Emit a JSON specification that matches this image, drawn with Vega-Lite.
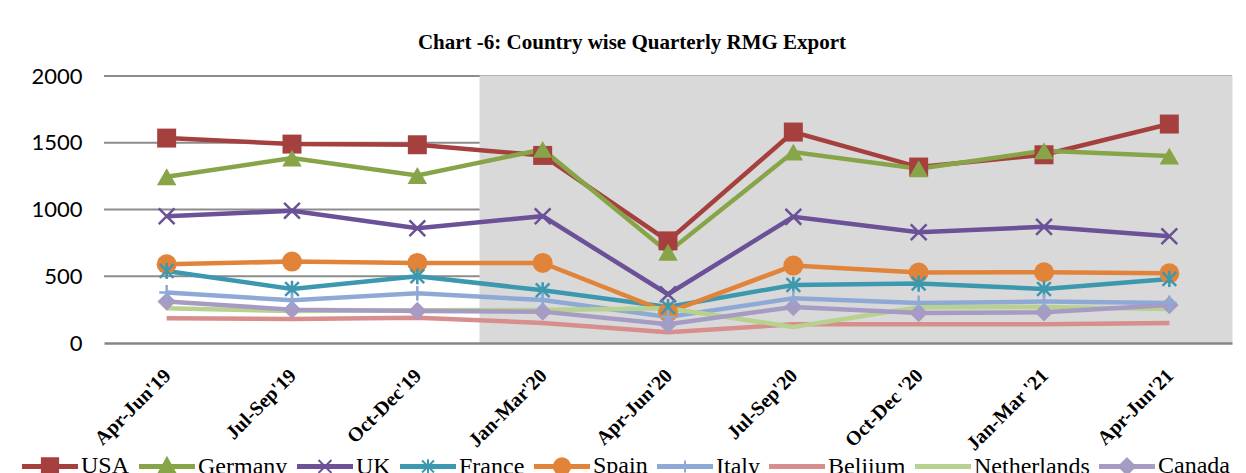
{
  "$schema": "https://vega.github.io/schema/vega-lite/v6.json",
  "width": 1128,
  "height": 267,
  "autosize": "none",
  "padding": {"left": 104, "top": 76, "right": 14, "bottom": 130},
  "background": "white",
  "title": {
    "text": "Chart -6: Country wise Quarterly RMG Export",
    "font": "Liberation Serif",
    "fontSize": 21,
    "fontWeight": "bold",
    "color": "black",
    "anchor": "middle",
    "dx": -36,
    "offset": 12
  },
  "config": {
    "view": {"stroke": null},
    "axis": {"labelColor": "black"}
  },
  "datasets": {
    "exports": [
      {"Quarter": "Apr-Jun'19", "Country": "USA", "Value": 1535},
      {"Quarter": "Jul-Sep'19", "Country": "USA", "Value": 1490},
      {"Quarter": "Oct-Dec'19", "Country": "USA", "Value": 1485},
      {"Quarter": "Jan-Mar'20", "Country": "USA", "Value": 1405},
      {"Quarter": "Apr-Jun'20", "Country": "USA", "Value": 765},
      {"Quarter": "Jul-Sep'20", "Country": "USA", "Value": 1580},
      {"Quarter": "Oct-Dec '20", "Country": "USA", "Value": 1318},
      {"Quarter": "Jan-Mar '21", "Country": "USA", "Value": 1410},
      {"Quarter": "Apr-Jun'21", "Country": "USA", "Value": 1640},
      {"Quarter": "Apr-Jun'19", "Country": "Germany", "Value": 1245},
      {"Quarter": "Jul-Sep'19", "Country": "Germany", "Value": 1385},
      {"Quarter": "Oct-Dec'19", "Country": "Germany", "Value": 1255},
      {"Quarter": "Jan-Mar'20", "Country": "Germany", "Value": 1450},
      {"Quarter": "Apr-Jun'20", "Country": "Germany", "Value": 680},
      {"Quarter": "Jul-Sep'20", "Country": "Germany", "Value": 1430},
      {"Quarter": "Oct-Dec '20", "Country": "Germany", "Value": 1305},
      {"Quarter": "Jan-Mar '21", "Country": "Germany", "Value": 1440},
      {"Quarter": "Apr-Jun'21", "Country": "Germany", "Value": 1400},
      {"Quarter": "Apr-Jun'19", "Country": "UK", "Value": 950},
      {"Quarter": "Jul-Sep'19", "Country": "UK", "Value": 990},
      {"Quarter": "Oct-Dec'19", "Country": "UK", "Value": 860},
      {"Quarter": "Jan-Mar'20", "Country": "UK", "Value": 950},
      {"Quarter": "Apr-Jun'20", "Country": "UK", "Value": 365},
      {"Quarter": "Jul-Sep'20", "Country": "UK", "Value": 945},
      {"Quarter": "Oct-Dec '20", "Country": "UK", "Value": 830},
      {"Quarter": "Jan-Mar '21", "Country": "UK", "Value": 870},
      {"Quarter": "Apr-Jun'21", "Country": "UK", "Value": 800},
      {"Quarter": "Apr-Jun'19", "Country": "France", "Value": 540},
      {"Quarter": "Jul-Sep'19", "Country": "France", "Value": 405},
      {"Quarter": "Oct-Dec'19", "Country": "France", "Value": 500},
      {"Quarter": "Jan-Mar'20", "Country": "France", "Value": 395},
      {"Quarter": "Apr-Jun'20", "Country": "France", "Value": 270},
      {"Quarter": "Jul-Sep'20", "Country": "France", "Value": 435},
      {"Quarter": "Oct-Dec '20", "Country": "France", "Value": 445},
      {"Quarter": "Jan-Mar '21", "Country": "France", "Value": 405},
      {"Quarter": "Apr-Jun'21", "Country": "France", "Value": 480},
      {"Quarter": "Apr-Jun'19", "Country": "Spain", "Value": 590},
      {"Quarter": "Jul-Sep'19", "Country": "Spain", "Value": 610},
      {"Quarter": "Oct-Dec'19", "Country": "Spain", "Value": 600},
      {"Quarter": "Jan-Mar'20", "Country": "Spain", "Value": 600},
      {"Quarter": "Apr-Jun'20", "Country": "Spain", "Value": 230},
      {"Quarter": "Jul-Sep'20", "Country": "Spain", "Value": 580},
      {"Quarter": "Oct-Dec '20", "Country": "Spain", "Value": 528},
      {"Quarter": "Jan-Mar '21", "Country": "Spain", "Value": 530},
      {"Quarter": "Apr-Jun'21", "Country": "Spain", "Value": 522},
      {"Quarter": "Apr-Jun'19", "Country": "Italy", "Value": 378},
      {"Quarter": "Jul-Sep'19", "Country": "Italy", "Value": 320},
      {"Quarter": "Oct-Dec'19", "Country": "Italy", "Value": 372},
      {"Quarter": "Jan-Mar'20", "Country": "Italy", "Value": 322},
      {"Quarter": "Apr-Jun'20", "Country": "Italy", "Value": 195},
      {"Quarter": "Jul-Sep'20", "Country": "Italy", "Value": 335},
      {"Quarter": "Oct-Dec '20", "Country": "Italy", "Value": 300},
      {"Quarter": "Jan-Mar '21", "Country": "Italy", "Value": 310},
      {"Quarter": "Apr-Jun'21", "Country": "Italy", "Value": 300},
      {"Quarter": "Apr-Jun'19", "Country": "Beljium", "Value": 185},
      {"Quarter": "Jul-Sep'19", "Country": "Beljium", "Value": 180},
      {"Quarter": "Oct-Dec'19", "Country": "Beljium", "Value": 190},
      {"Quarter": "Jan-Mar'20", "Country": "Beljium", "Value": 150},
      {"Quarter": "Apr-Jun'20", "Country": "Beljium", "Value": 80},
      {"Quarter": "Jul-Sep'20", "Country": "Beljium", "Value": 140},
      {"Quarter": "Oct-Dec '20", "Country": "Beljium", "Value": 140},
      {"Quarter": "Jan-Mar '21", "Country": "Beljium", "Value": 140},
      {"Quarter": "Apr-Jun'21", "Country": "Beljium", "Value": 150},
      {"Quarter": "Apr-Jun'19", "Country": "Netherlands", "Value": 260},
      {"Quarter": "Jul-Sep'19", "Country": "Netherlands", "Value": 240},
      {"Quarter": "Oct-Dec'19", "Country": "Netherlands", "Value": 245},
      {"Quarter": "Jan-Mar'20", "Country": "Netherlands", "Value": 247},
      {"Quarter": "Apr-Jun'20", "Country": "Netherlands", "Value": 260},
      {"Quarter": "Jul-Sep'20", "Country": "Netherlands", "Value": 120},
      {"Quarter": "Oct-Dec '20", "Country": "Netherlands", "Value": 268},
      {"Quarter": "Jan-Mar '21", "Country": "Netherlands", "Value": 270},
      {"Quarter": "Apr-Jun'21", "Country": "Netherlands", "Value": 255},
      {"Quarter": "Apr-Jun'19", "Country": "Canada", "Value": 310},
      {"Quarter": "Jul-Sep'19", "Country": "Canada", "Value": 250},
      {"Quarter": "Oct-Dec'19", "Country": "Canada", "Value": 240},
      {"Quarter": "Jan-Mar'20", "Country": "Canada", "Value": 235},
      {"Quarter": "Apr-Jun'20", "Country": "Canada", "Value": 140},
      {"Quarter": "Jul-Sep'20", "Country": "Canada", "Value": 270},
      {"Quarter": "Oct-Dec '20", "Country": "Canada", "Value": 225},
      {"Quarter": "Jan-Mar '21", "Country": "Canada", "Value": 230},
      {"Quarter": "Apr-Jun'21", "Country": "Canada", "Value": 285}
    ],
    "shade": [
      {"Quarter": "Jan-Mar'20"},
      {"Quarter": "Apr-Jun'20"},
      {"Quarter": "Jul-Sep'20"},
      {"Quarter": "Oct-Dec '20"},
      {"Quarter": "Jan-Mar '21"},
      {"Quarter": "Apr-Jun'21"}
    ],
    "grid": [
      {"Level": 500}, {"Level": 1000}, {"Level": 1500}, {"Level": 2000}
    ]
  },
  "resolve": {
    "scale": {"shape": "independent", "size": "independent", "fill": "independent", "stroke": "independent"},
    "legend": {"shape": "independent", "fill": "independent", "stroke": "independent"}
  },
  "layer": [
    {
      "data": {"name": "grid"},
      "mark": {"type": "rule", "color": "#8C8C8C", "strokeWidth": 2},
      "encoding": {
        "y": {
          "field": "Level", "type": "quantitative",
          "scale": {"domain": [0, 2000], "nice": false},
          "axis": {
            "title": null, "values": [0, 500, 1000, 1500, 2000], "format": "d", "ticks": false, "domain": false,
            "grid": false,
            "labelFont": "Lato", "labelFontSize": 22, "labelColor": "black", "labelPadding": 22
          }
        }
      }
    },
    {
      "data": {"name": "shade"},
      "mark": {"type": "rect", "fill": "#D9D9D9", "stroke": "#D9D9D9", "strokeWidth": 1, "opacity": 1},
      "encoding": {
        "x": {
          "field": "Quarter", "type": "nominal", "sort": null,
          "scale": {"type": "band", "paddingInner": 0, "paddingOuter": 0,
            "domain": ["Apr-Jun'19", "Jul-Sep'19", "Oct-Dec'19", "Jan-Mar'20", "Apr-Jun'20", "Jul-Sep'20", "Oct-Dec '20", "Jan-Mar '21", "Apr-Jun'21"]},
          "axis": {
            "title": null, "ticks": false, "domain": true, "domainColor": "#868686", "domainWidth": 2.5,
            "zindex": 1, "grid": false,
            "labelAngle": -45, "labelAlign": "right", "labelBaseline": "top", "labelPadding": 22, "labelOffset": -6,
            "labelFont": "Liberation Serif", "labelFontWeight": "bold", "labelFontSize": 20, "labelColor": "black"
          }
        },
        "y": {"datum": 0, "type": "quantitative"},
        "y2": {"datum": 2000}
      }
    },
    {
      "data": {"name": "exports"},
      "mark": {"type": "line", "strokeWidth": 4.5},
      "encoding": {
        "x": {"field": "Quarter", "type": "nominal", "sort": null},
        "y": {"field": "Value", "type": "quantitative"},
        "color": {
          "field": "Country", "type": "nominal", "legend": null,
          "scale": {
            "domain": ["USA", "Germany", "UK", "France", "Spain", "Italy", "Beljium", "Netherlands", "Canada"],
            "range": ["#A5403E", "#87A548", "#6B5197", "#3C98AF", "#E1843A", "#8FA9D6", "#D78E8D", "#B7D18F", "#A69BC3"]
          }
        }
      }
    },
    {
      "data": {"name": "exports"},
      "transform": [{"filter": {"field": "Country", "oneOf": ["USA", "Germany", "Spain", "Canada"]}}],
      "mark": {"type": "point", "filled": true, "opacity": 1},
      "encoding": {
        "x": {"field": "Quarter", "type": "nominal", "sort": null},
        "y": {"field": "Value", "type": "quantitative"},
        "color": {"field": "Country", "type": "nominal", "legend": null},
        "shape": {
          "field": "Country", "type": "nominal", "legend": null,
          "scale": {"domain": ["USA", "Germany", "Spain", "Canada"], "range": ["square", "triangle-up", "circle", "diamond"]}
        },
        "size": {
          "field": "Country", "type": "nominal", "legend": null,
          "scale": {"type": "ordinal", "domain": ["USA", "Germany", "Spain", "Canada"], "range": [360, 380, 400, 340]}
        }
      }
    },
    {
      "data": {"name": "exports"},
      "transform": [{"filter": {"field": "Country", "oneOf": ["UK", "France", "Italy"]}}],
      "mark": {"type": "point", "filled": false, "strokeWidth": 2.5, "opacity": 1},
      "encoding": {
        "x": {"field": "Quarter", "type": "nominal", "sort": null},
        "y": {"field": "Value", "type": "quantitative"},
        "color": {"field": "Country", "type": "nominal", "legend": null},
        "shape": {
          "field": "Country", "type": "nominal", "legend": null,
          "scale": {"domain": ["UK", "France", "Italy"], "range": [
            "M-1,-1L1,1M-1,1L1,-1",
            "M0,-1V1M-0.85,-0.85L0.85,0.85M-0.85,0.85L0.85,-0.85",
            "M-1,0H1M0,-1V1"
          ]}
        },
        "size": {
          "field": "Country", "type": "nominal", "legend": null,
          "scale": {"type": "ordinal", "domain": ["UK", "France", "Italy"], "range": [250, 260, 220]}
        }
      }
    },
    {
      "data": {"name": "exports"},
      "transform": [{"filter": {"field": "Quarter", "equal": "Apr-Jun'19"}}],
      "mark": {"type": "point", "opacity": 1, "strokeWidth": 2, "clip": true},
      "encoding": {
        "x": {"field": "Quarter", "type": "nominal", "sort": null},
        "y": {"datum": -2000, "type": "quantitative"},
        "fill": {
          "field": "Country", "type": "nominal", "legend": {"title": null},
          "scale": {
            "domain": ["USA", "Germany", "UK", "France", "Spain", "Italy", "Beljium", "Netherlands", "Canada"],
            "range": ["#A5403E", "#87A548", "#6B5197", "#3C98AF", "#E1843A", "#8FA9D6", "#D78E8D", "#B7D18F", "#A69BC3"]
          }
        },
        "stroke": {
          "field": "Country", "type": "nominal", "legend": {"title": null},
          "scale": {
            "domain": ["USA", "Germany", "UK", "France", "Spain", "Italy", "Beljium", "Netherlands", "Canada"],
            "range": ["#A5403E", "#87A548", "#6B5197", "#3C98AF", "#E1843A", "#8FA9D6", "#D78E8D", "#B7D18F", "#A69BC3"]
          }
        },
        "shape": {
          "field": "Country", "type": "nominal",
          "scale": {
            "domain": ["USA", "Germany", "UK", "France", "Spain", "Italy", "Beljium", "Netherlands", "Canada"],
            "range": [
              "M-1,-0.055H1V0.055H-1Z M-0.3,-0.3H0.3V0.3H-0.3Z",
              "M-1,-0.055H1V0.055H-1Z M0,-0.32L0.32,0.26H-0.32Z",
              "M-1,-0.055H1V0.055H-1Z M-0.24,-0.24L0.24,0.24M-0.24,0.24L0.24,-0.24",
              "M-1,-0.055H1V0.055H-1Z M0,-0.27V0.27M-0.22,-0.22L0.22,0.22M-0.22,0.22L0.22,-0.22",
              "M-1,-0.055H1V0.055H-1Z M-0.3,0A0.3,0.3 0 1,1 0.3,0A0.3,0.3 0 1,1 -0.3,0Z",
              "M-1,-0.055H1V0.055H-1Z M0,-0.22V0.22",
              "M-1,-0.055H1V0.055H-1Z",
              "M-1,-0.055H1V0.055H-1Z",
              "M-1,-0.055H1V0.055H-1Z M0,-0.3L0.3,0L0,0.3L-0.3,0Z"
            ]
          },
          "legend": {
            "title": null,
            "orient": "none",
            "legendX": -82,
            "legendY": 362,
            "direction": "horizontal",
            "columns": 9,
            "padding": 0,
            "symbolSize": 2916,
            "symbolStrokeWidth": 2,
            "labelOffset": 3,
            "columnPadding": 6,
            "labelFont": "Liberation Serif",
            "labelFontSize": 24,
            "labelColor": "black",
            "labelLimit": 300
          }
        }
      }
    }
  ]
}
